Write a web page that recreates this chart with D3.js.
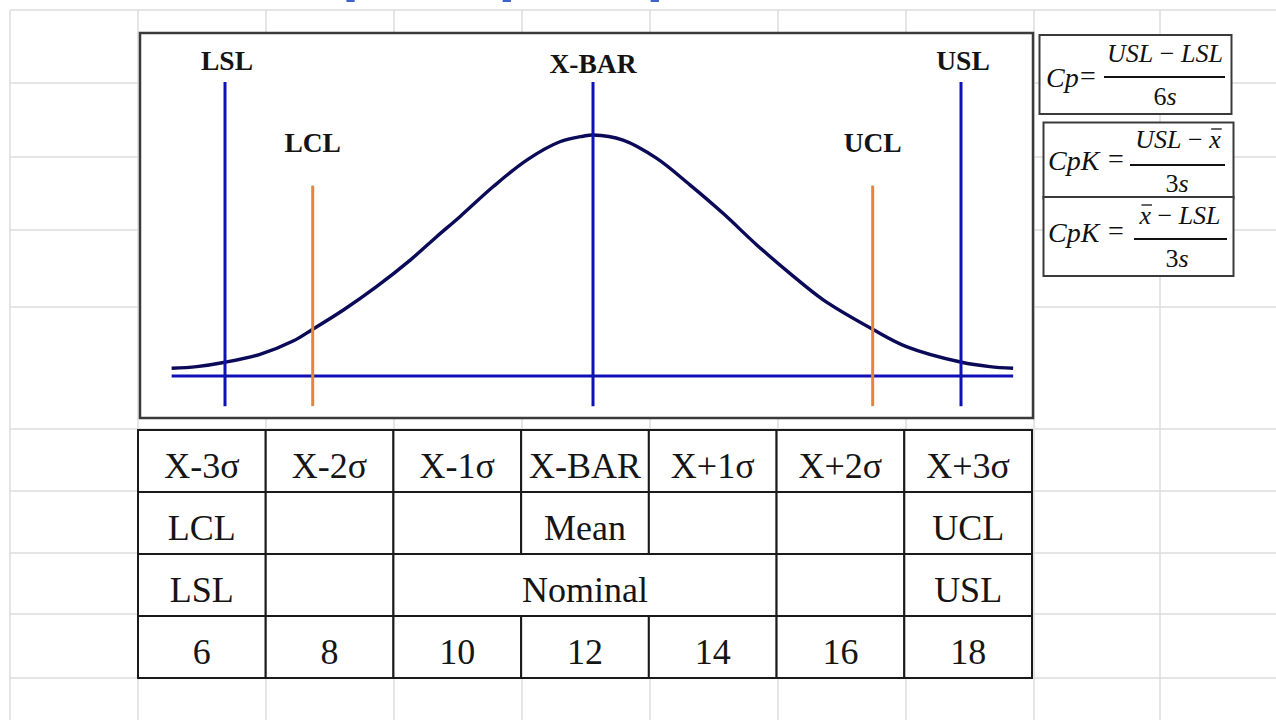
<!DOCTYPE html>
<html><head><meta charset="utf-8">
<script src="https://cdn.jsdelivr.net/npm/d3@7"></script>
<style>
html,body{margin:0;padding:0;background:#fff;}
svg{display:block;}
</style></head><body>
<svg id="c" width="1276" height="720"></svg>
<script>
// Traced bell curve: measurement values and relative frequency (peak = 1)
const curveValues  = [5.13,5.54,6.0,6.57,7.11,7.43,7.93,8.47,9.02,9.45,9.83,10.37,10.92,11.46,11.84,12.0,
                      12.49,13.04,13.58,14.12,14.67,15.21,15.76,16.56,17.11,18.01,18.47,18.85];
const curveDensity = [0.032,0.039,0.057,0.09,0.145,0.194,0.274,0.371,0.481,0.578,0.661,0.785,0.896,0.972,0.995,1.0,
                      0.979,0.903,0.793,0.675,0.544,0.426,0.315,0.194,0.122,0.057,0.039,0.032];

// Reference lines: label, position on the measurement axis, height of the line, kind
const limitLabels = ["LSL","LCL","X-BAR","UCL","USL"];
const limitValues = [6, 7.43, 12, 16.56, 18];
const limitTops   = [1.22, 0.79, 1.22, 0.79, 1.22];
const limitKinds  = ["spec","control","center","control","spec"];

// Table under the chart
const sigmaRow   = ["X-3σ","X-2σ","X-1σ","X-BAR","X+1σ","X+2σ","X+3σ"];
const controlRow = ["LCL","","","Mean","","","UCL"];
const specRow    = ["LSL","","Nominal","","USL"];
const specSpans  = [1,1,3,1,1];
const valueRow   = [6,8,10,12,14,16,18];

const svg = d3.select("#c");
const serif = "Liberation Serif, Times New Roman, serif";

// ---------- spreadsheet cell grid ----------
const gridCols = d3.range(10, 1276, 128).map(v => v === 1162 ? 1160 : v);
const gridRows = [10, 83, 157, 230, 307, 429, 491, 553, 614, 678];
const grid = svg.append("g").attr("stroke", "#dcdcdc").attr("stroke-width", 1.5);
grid.selectAll("line.v").data(gridCols).join("line")
  .attr("x1", d => d).attr("x2", d => d).attr("y1", 10).attr("y2", 720);
grid.selectAll("line.h").data(gridRows).join("line")
  .attr("x1", 10).attr("x2", 1276).attr("y1", d => d).attr("y2", d => d);

// ---------- title row (runs above the visible sheet) ----------
svg.append("text")
  .attr("x", 299).attr("y", -9.6)
  .attr("font-family", "Liberation Sans, Arial, sans-serif")
  .attr("font-weight", "bold").attr("font-size", 60)
  .attr("word-spacing", -12)
  .attr("fill", "#3b63c9")
  .text("Cp vs Cpk Explained");

// ---------- chart frame ----------
svg.append("rect")
  .attr("x", 140).attr("y", 33).attr("width", 893).attr("height", 385)
  .attr("fill", "#fff").attr("stroke", "#3a3a3a").attr("stroke-width", 2.5);

const x = d3.scaleLinear().domain([6, 18]).range([225, 961]);
const y = d3.scaleLinear().domain([0, 1]).range([376, 135]);

const plot = svg.append("g");

// baseline
plot.append("line")
  .attr("x1", x(d3.min(curveValues))).attr("x2", x(d3.max(curveValues)))
  .attr("y1", y(0)).attr("y2", y(0))
  .attr("stroke", "#1010b8").attr("stroke-width", 3);

// bell curve
const pts = curveValues.map((v, i) => [v, curveDensity[i]]);
plot.append("path")
  .attr("d", d3.line().x(d => x(d[0])).y(d => y(d[1])).curve(d3.curveCatmullRom.alpha(0.5))(pts))
  .attr("fill", "none").attr("stroke", "#0a0a58").attr("stroke-width", 3.4);

// vertical reference lines
const kindColor = {spec: "#1010b8", center: "#1010b8", control: "#e8843a"};
const labelLift = {spec: 12, center: 9, control: 34};
const limits = limitLabels.map((l, i) => ({label: l, value: limitValues[i], top: limitTops[i], kind: limitKinds[i]}));

plot.selectAll("line.lim").data(limits).join("line")
  .attr("x1", d => x(d.value)).attr("x2", d => x(d.value))
  .attr("y1", d => y(d.top)).attr("y2", y(-0.125))
  .attr("stroke", d => kindColor[d.kind]).attr("stroke-width", 3);

plot.selectAll("text.lim").data(limits).join("text")
  .attr("x", d => x(d.value) + (d.kind === "spec" ? 2 : 0))
  .attr("y", d => y(d.top) - labelLift[d.kind])
  .attr("text-anchor", "middle")
  .attr("font-family", serif)
  .attr("font-weight", "bold").attr("font-size", 27.5)
  .attr("fill", "#141414")
  .text(d => d.label);

// ---------- formula boxes ----------
const formulas = [
  {box:[1039.5,35,192,79], lhs:"Cp", lhsX:1046, base:87, eqX:1088, bar:[1104,1225,77], numX:1165, numY:62, denX:1165, denY:105,
   num:[["USL",1],[" − ",0],["LSL",1]], den:[["6",0],["s",1]]},
  {box:[1043.5,122.5,190,76], lhs:"CpK", lhsX:1048, base:170, eqX:1116, bar:[1130,1225,165], numX:1178, numY:148, denX:1177, denY:192,
   num:[["USL",1],[" − ",0],["x",1,"bar"]], den:[["3",0],["s",1]]},
  {box:[1043.5,197,190,79], lhs:"CpK", lhsX:1048, base:242, eqX:1116, bar:[1134,1227,239], numX:1180, numY:224, denX:1177, denY:267,
   num:[["x",1,"bar"],[" − ",0],["LSL",1]], den:[["3",0],["s",1]]}
];

formulas.forEach(f => {
  const g = svg.append("g");
  g.append("rect").attr("x", f.box[0]).attr("y", f.box[1]).attr("width", f.box[2]).attr("height", f.box[3])
    .attr("fill", "#fff").attr("stroke", "#3a3a3a").attr("stroke-width", 2);
  g.append("text").attr("x", f.lhsX).attr("y", f.base)
    .attr("font-family", serif).attr("font-style", "italic").attr("font-size", 28).attr("fill", "#111")
    .text(f.lhs);
  g.append("text").attr("x", f.eqX).attr("y", f.base - 2).attr("text-anchor", "middle")
    .attr("font-family", serif).attr("font-size", 28).attr("fill", "#111").text("=");
  g.append("line").attr("x1", f.bar[0]).attr("x2", f.bar[1]).attr("y1", f.bar[2]).attr("y2", f.bar[2])
    .attr("stroke", "#111").attr("stroke-width", 1.8);

  const part = (parts, cx, cy) => {
    const t = g.append("text").attr("x", cx).attr("y", cy).attr("text-anchor", "middle")
      .attr("font-family", serif).attr("font-size", 26).attr("fill", "#111");
    parts.forEach(p => {
      t.append("tspan").attr("font-style", p[1] ? "italic" : "normal").text(p[0]);
    });
    // overline for x-bar
    let idx = 0;
    parts.forEach(p => {
      if (p[2] === "bar") {
        const node = t.node();
        const s = node.getStartPositionOfChar(idx);
        const e = node.getEndPositionOfChar(idx);
        g.append("line").attr("x1", s.x + 2).attr("x2", e.x + 1)
          .attr("y1", cy - 19).attr("y2", cy - 19)
          .attr("stroke", "#111").attr("stroke-width", 1.3);
      }
      idx += p[0].length;
    });
  };
  part(f.num, f.numX, f.numY);
  part(f.den, f.denX, f.denY);
});

// ---------- table ----------
const col = d3.scaleBand().domain(d3.range(7)).range([138, 1032]);
const row = d3.scaleBand().domain(d3.range(4)).range([430, 678]);

function cells(texts, spans) {
  let c = 0;
  return texts.map((t, i) => {
    const s = spans ? spans[i] : 1;
    const cell = {text: t, start: c, span: s};
    c += s;
    return cell;
  });
}
const tableRows = [
  cells(sigmaRow),
  cells(controlRow),
  cells(specRow, specSpans),
  cells(valueRow.map(String))
];

const table = svg.append("g");
tableRows.forEach((cellsInRow, r) => {
  const gRow = table.append("g");
  gRow.selectAll("rect").data(cellsInRow).join("rect")
    .attr("x", d => col(d.start))
    .attr("y", row(r))
    .attr("width", d => col.bandwidth() * d.span)
    .attr("height", row.bandwidth())
    .attr("fill", "#fff").attr("stroke", "#1a1a1a").attr("stroke-width", 2);
  gRow.selectAll("text").data(cellsInRow).join("text")
    .attr("x", d => col(d.start) + col.bandwidth() * d.span / 2)
    .attr("y", row(r) + row.bandwidth() * 0.77)
    .attr("text-anchor", "middle")
    .attr("font-family", serif).attr("font-size", 36).attr("fill", "#151515")
    .text(d => d.text);
});
</script>
</body></html>
